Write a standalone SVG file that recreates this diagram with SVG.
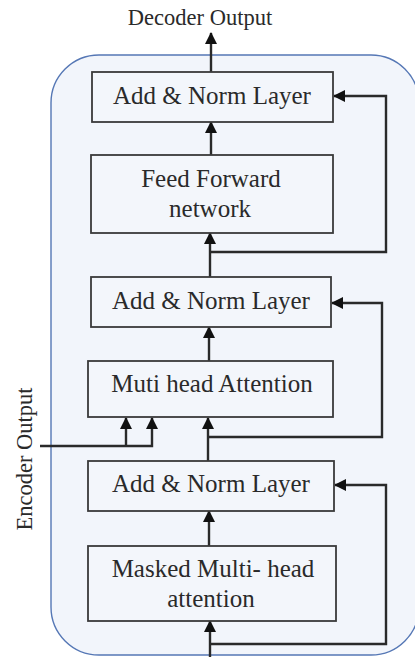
<svg xmlns="http://www.w3.org/2000/svg" width="415" height="657" viewBox="0 0 415 657">
<defs>
<style>
.box{fill:#f3f6fb;stroke:#3a3a3a;stroke-width:1.8}
.lbl{font-family:"Liberation Serif","Times New Roman",serif;font-size:25px;fill:#2a2a2a;text-anchor:middle}
.cap{font-family:"Liberation Serif","Times New Roman",serif;font-size:22.5px;fill:#2a2a2a;text-anchor:middle}
.con{fill:none;stroke:#2a2a2a;stroke-width:2.4}
.arr{marker-end:url(#ah)}
</style>
<marker id="ah" viewBox="0 0 12 12" refX="11" refY="6" markerWidth="12" markerHeight="12" markerUnits="userSpaceOnUse" orient="auto">
<path d="M0,0 L12,6 L0,12 z" fill="#111"/>
</marker>
</defs>
<rect width="415" height="657" fill="#ffffff"/>
<rect id="container" x="51" y="55" width="368" height="600" rx="48" ry="48" fill="#f2f5fb" stroke="#5577b5" stroke-width="1.4"/>
<text class="cap" x="200" y="25">Decoder Output</text>
<text class="cap" transform="translate(32,459) rotate(-90)" x="0" y="0">Encoder Output</text>
<g id="connectors">
<path class="con arr" d="M211,72 V33"/>
<path class="con arr" d="M211,155 V122"/>
<path class="con arr" d="M211,252 H386 V96 H334"/>
<path class="con arr" d="M210,277 V233"/>
<path class="con arr" d="M208,437 H382 V303 H332"/>
<path class="con arr" d="M209,361 V327"/>
<path class="con arr" d="M40,446 H152 V418"/>
<path class="con arr" d="M126,446 V418"/>
<path class="con arr" d="M208,461 V418"/>
<path class="con arr" d="M210,644 H386 V485 H335"/>
<path class="con arr" d="M209,546 V511"/>
<path class="con arr" d="M210,657 V621"/>
</g>
<g id="addnorm3">
<rect class="box" x="92" y="72" width="241" height="50"/>
<text class="lbl" x="212" y="104">Add &amp; Norm Layer</text>
</g>
<g id="feedforward">
<rect class="box" x="91" y="155" width="242" height="78"/>
<text class="lbl" x="211" y="187">Feed Forward</text>
<text class="lbl" x="210" y="217">network</text>
</g>
<g id="addnorm2">
<rect class="box" x="91" y="277" width="240" height="50"/>
<text class="lbl" x="211" y="309">Add &amp; Norm Layer</text>
</g>
<g id="mha">
<rect class="box" x="88" y="361" width="245" height="56"/>
<text class="lbl" x="212" y="392">Muti head Attention</text>
</g>
<g id="addnorm1">
<rect class="box" x="88" y="461" width="246" height="50"/>
<text class="lbl" x="211" y="492">Add &amp; Norm Layer</text>
</g>
<g id="masked">
<rect class="box" x="88" y="546" width="248" height="75"/>
<text class="lbl" x="213" y="577">Masked Multi- head</text>
<text class="lbl" x="211" y="607">attention</text>
</g>
</svg>
